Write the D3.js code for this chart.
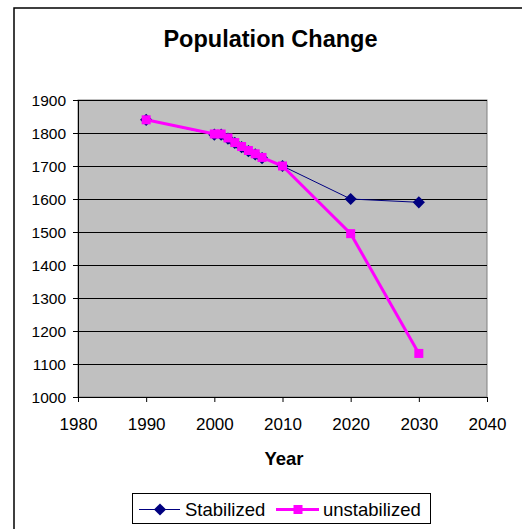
<!DOCTYPE html>
<html>
<head>
<meta charset="utf-8">
<script src="https://cdn.jsdelivr.net/npm/d3@7"></script>
<style>
  html, body { margin: 0; padding: 0; background: #fff; }
  svg { display: block; font-family: "Liberation Sans", Arial, sans-serif; }
</style>
</head>
<body>
<svg id="chart" width="522" height="529"></svg>
<script>
// Population projections by year
const years        = [1990, 2000, 2001, 2002, 2003, 2004, 2005, 2006, 2007, 2010, 2020, 2030];
const stabilized   = [1840, 1795, 1795, 1783, 1770, 1757, 1745, 1735, 1724, 1700, 1600, 1590];
const unstabilized = [1840, 1797, 1797, 1785, 1771, 1759, 1747, 1737, 1726, 1700, 1495, 1132];

const xTicks = [1980, 1990, 2000, 2010, 2020, 2030, 2040];
const yTicks = [1000, 1100, 1200, 1300, 1400, 1500, 1600, 1700, 1800, 1900];

const seriesNames = ["Stabilized", "unstabilized"];

const FONT = "Liberation Sans, Arial, sans-serif";
const svg = d3.select("#chart");

// outer chart frame (open to the right and bottom edges)
svg.append("rect")
  .attr("x", 14).attr("y", 8)
  .attr("width", 540).attr("height", 560)
  .attr("fill", "#fff")
  .attr("stroke", "#000").attr("stroke-width", 1.5);

const plot = { left: 78, right: 487, top: 100, bottom: 397 };

const x = d3.scaleLinear().domain([1980, 2040]).range([plot.left, plot.right]);
const y = d3.scaleLinear().domain([1000, 1900]).range([plot.bottom, plot.top]);

// plot area
svg.append("rect")
  .attr("x", plot.left).attr("y", plot.top)
  .attr("width", plot.right - plot.left).attr("height", plot.bottom - plot.top)
  .attr("fill", "#c0c0c0")
  .attr("stroke", "#808080").attr("stroke-width", 1);

// horizontal gridlines
svg.append("g")
  .selectAll("line")
  .data(yTicks.slice(1))
  .join("line")
  .attr("x1", plot.left).attr("x2", plot.right)
  .attr("y1", d => Math.round(y(d)) + 0.5).attr("y2", d => Math.round(y(d)) + 0.5)
  .attr("stroke", "#000").attr("stroke-width", 1);

// y axis
const yAxis = svg.append("g")
  .attr("transform", `translate(${plot.left},0)`)
  .call(d3.axisLeft(y).tickValues(yTicks).tickSize(5).tickPadding(7).tickFormat(d3.format("d")));
yAxis.select(".domain").attr("stroke", "#000");
yAxis.selectAll(".tick line").attr("stroke", "#000");
yAxis.selectAll("text").attr("font-size", 15.5).attr("fill", "#000")
  .attr("font-family", FONT).attr("dy", "0.36em");

// x axis
const xAxis = svg.append("g")
  .attr("transform", `translate(0,${plot.bottom})`)
  .call(d3.axisBottom(x).tickValues(xTicks).tickSize(5).tickPadding(0).tickFormat(d3.format("d")));
xAxis.select(".domain").attr("stroke", "#000");
xAxis.selectAll(".tick line").attr("stroke", "#000");
xAxis.selectAll("text").attr("font-size", 17).attr("fill", "#000")
  .attr("font-family", FONT).attr("dy", null).attr("y", 33);

// title and axis title
svg.append("text")
  .attr("x", 270.5).attr("y", 47)
  .attr("text-anchor", "middle")
  .attr("font-size", 23.5).attr("font-weight", "bold")
  .text("Population Change");

svg.append("text")
  .attr("x", 284).attr("y", 465)
  .attr("text-anchor", "middle")
  .attr("font-size", 18.5).attr("font-weight", "bold")
  .text("Year");

const line = d3.line().x(d => x(d[0])).y(d => y(d[1]));
const stabData = years.map((yr, i) => [yr, stabilized[i]]);
const unstabData = years.map((yr, i) => [yr, unstabilized[i]]);

// square rotated 45 degrees gives the diamond marker
const diamond = d3.symbol().type(d3.symbolSquare).size(74);

// Stabilized series
svg.append("path")
  .datum(stabData)
  .attr("d", line)
  .attr("fill", "none")
  .attr("stroke", "#000080").attr("stroke-width", 1);
svg.append("g")
  .selectAll("path")
  .data(stabData)
  .join("path")
  .attr("transform", d => `translate(${x(d[0])},${y(d[1])}) rotate(45)`)
  .attr("d", diamond)
  .attr("fill", "#000080");

// unstabilized series
svg.append("path")
  .datum(unstabData)
  .attr("d", line)
  .attr("fill", "none")
  .attr("stroke", "#ff00ff").attr("stroke-width", 3);
svg.append("g")
  .selectAll("rect")
  .data(unstabData)
  .join("rect")
  .attr("x", d => x(d[0]) - 4.5).attr("y", d => y(d[1]) - 4.5)
  .attr("width", 9).attr("height", 9)
  .attr("fill", "#ff00ff");

// legend
const legend = svg.append("g");
legend.append("rect")
  .attr("x", 132.5).attr("y", 493.5)
  .attr("width", 298).attr("height", 30)
  .attr("fill", "#fff").attr("stroke", "#000").attr("stroke-width", 1);

legend.append("line")
  .attr("x1", 139).attr("x2", 180).attr("y1", 509.5).attr("y2", 509.5)
  .attr("stroke", "#000080").attr("stroke-width", 1);
legend.append("path")
  .attr("transform", "translate(160,509.5) rotate(45)")
  .attr("d", diamond)
  .attr("fill", "#000080");
legend.append("text")
  .attr("x", 185).attr("y", 515.5)
  .attr("font-size", 18.5)
  .text(seriesNames[0]);

legend.append("line")
  .attr("x1", 276).attr("x2", 319).attr("y1", 509.5).attr("y2", 509.5)
  .attr("stroke", "#ff00ff").attr("stroke-width", 3);
legend.append("rect")
  .attr("x", 293.5).attr("y", 505).attr("width", 9).attr("height", 9)
  .attr("fill", "#ff00ff");
legend.append("text")
  .attr("x", 323).attr("y", 515.5)
  .attr("font-size", 18.5)
  .text(seriesNames[1]);
</script>
</body>
</html>
